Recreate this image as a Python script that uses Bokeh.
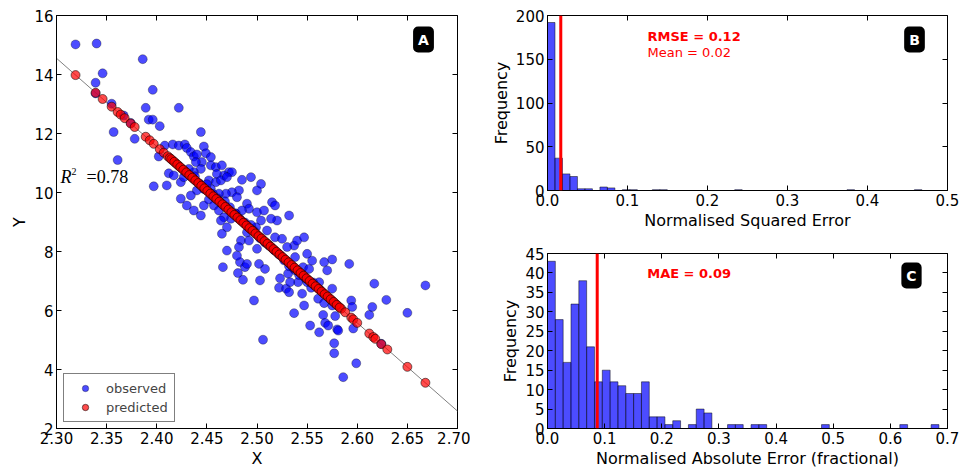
import numpy as np
from bokeh.plotting import figure
from bokeh.models import (Label, Legend, LegendItem, LinearAxis, FixedTicker,
                          NumeralTickFormatter, Range1d, Span, CustomJSTickFormatter)
from bokeh.layouts import row, column
from bokeh.embed import file_html
from bokeh.resources import INLINE

FONT = "DejaVu Sans"

# ---------------- data: panel A (observed vs predicted) ----------------
obs_x = [
    2.319, 2.340, 2.386, 2.346, 2.339, 2.396, 2.355, 2.389, 2.422, 2.367, 2.392, 2.396, 2.403,
    2.357, 2.444, 2.378, 2.361, 2.397, 2.402, 2.374, 2.339,
    2.408, 2.416, 2.422, 2.428, 2.430, 2.434, 2.437, 2.440, 2.447, 2.449, 2.454, 2.445, 2.439,
    2.454, 2.459, 2.465, 2.472, 2.475, 2.467, 2.460, 2.444, 2.437, 2.412, 2.417, 2.424, 2.410,
    2.427, 2.452, 2.459, 2.464, 2.470, 2.485, 2.494, 2.504, 2.500, 2.482, 2.475, 2.469, 2.462,
    2.454, 2.447, 2.440, 2.434, 2.424, 2.430, 2.437, 2.444, 2.447, 2.452, 2.457, 2.462, 2.480,
    2.490, 2.492, 2.485, 2.479, 2.474, 2.467, 2.464, 2.470, 2.500, 2.507, 2.515, 2.518, 2.532,
    2.520, 2.514, 2.504, 2.499, 2.490, 2.484, 2.492, 2.500, 2.470, 2.482, 2.465, 2.510, 2.518,
    2.525, 2.537, 2.540, 2.547, 2.550, 2.530,
    2.466, 2.483, 2.488, 2.481, 2.486, 2.490, 2.502, 2.503, 2.497, 2.506, 2.508, 2.523, 2.522,
    2.531, 2.529, 2.532, 2.537, 2.538, 2.541, 2.546, 2.545, 2.547, 2.552, 2.555, 2.553, 2.562,
    2.561, 2.562, 2.567, 2.566, 2.568, 2.570, 2.571, 2.575, 2.575, 2.578, 2.577, 2.577, 2.580,
    2.581, 2.586, 2.592, 2.594, 2.595, 2.596, 2.599, 2.612, 2.615, 2.617, 2.629, 2.650, 2.668,
    2.538, 2.567, 2.575, 2.533, 2.550, 2.554, 2.480, 2.624,
    2.432, 2.438, 2.443, 2.450, 2.456, 2.461, 2.468, 2.473, 2.478, 2.483, 2.488, 2.494, 2.497,
    2.503, 2.508, 2.512, 2.517, 2.522, 2.527, 2.532, 2.536, 2.542, 2.548, 2.556, 2.563,
]
obs_y = [
    15.02, 15.05, 14.52, 14.04, 13.72, 13.48, 13.01, 12.87, 12.87, 12.61, 12.47, 12.47, 12.25,
    12.05, 12.05, 11.82, 11.10, 10.21, 11.22, 12.36, 13.36,
    11.59, 11.63, 11.59, 11.63, 11.51, 11.37, 11.22, 11.29, 11.56, 11.33, 11.20, 11.03, 11.03,
    10.92, 10.86, 10.92, 10.69, 10.69, 10.58, 10.63, 10.80, 10.69, 10.65, 10.58, 10.35, 10.24,
    10.52, 10.41, 10.35, 10.41, 10.52, 10.43, 10.52, 10.29, 10.07, 10.07, 10.01, 9.96, 9.96,
    10.12, 10.12, 10.07, 9.90, 9.79, 9.56, 9.39, 9.22, 9.56, 9.76, 9.56, 9.39, 9.84,
    9.62, 9.45, 9.39, 9.28, 9.11, 9.16, 9.05, 8.82, 9.33, 9.39, 9.67, 9.56, 9.22,
    9.05, 9.11, 9.05, 8.82, 8.65, 8.37, 8.37, 8.09, 8.03, 8.15, 8.60, 8.71, 8.48,
    8.43, 8.20, 8.37, 8.48, 7.92, 8.15,
    7.47, 7.64, 7.47, 7.27, 7.04, 7.58, 7.58, 7.02, 6.34, 5.01, 7.41, 7.09, 6.77,
    7.25, 6.74, 6.62, 5.91, 7.36, 6.96, 7.47, 6.57, 6.17, 7.41, 7.69, 5.49, 5.26,
    6.40, 6.96, 7.64, 5.85, 5.58, 7.36, 5.49, 7.73, 6.74, 5.81, 4.89, 4.55, 5.36,
    5.32, 3.74, 7.58, 6.34, 6.12, 5.39, 4.21, 5.85, 6.12, 6.91, 6.36, 5.92, 6.85,
    7.81, 6.25, 6.17, 6.96, 6.96, 6.77, 7.86, 4.87,
    10.80, 10.55, 10.30, 10.28, 9.95, 9.80, 9.70, 9.50, 9.30, 9.10, 8.98, 8.90, 8.70,
    8.45, 8.30, 8.20, 8.05, 7.90, 7.70, 7.50, 7.45, 7.20, 7.10, 6.95, 6.70,
]

pred_x = [
    2.319, 2.339, 2.346, 2.355, 2.361, 2.364, 2.368, 2.374, 2.378, 2.389, 2.393, 2.397, 2.403,
    2.407, 2.411,
    2.413, 2.416, 2.419, 2.422, 2.425, 2.428, 2.431, 2.434, 2.437, 2.440, 2.443, 2.446, 2.449,
    2.452, 2.455, 2.458, 2.461, 2.464, 2.467, 2.470, 2.473, 2.476, 2.479, 2.482, 2.485, 2.488,
    2.491, 2.494, 2.497, 2.500, 2.503, 2.506, 2.509, 2.512, 2.515, 2.518, 2.521, 2.524, 2.527,
    2.530, 2.533, 2.536, 2.539, 2.542, 2.545, 2.548, 2.551, 2.554, 2.557, 2.560, 2.563, 2.566,
    2.569, 2.572, 2.575, 2.578, 2.581, 2.584,
    2.4145, 2.4175, 2.4205, 2.4235, 2.4265, 2.4295, 2.4325, 2.4355, 2.4385, 2.4415, 2.4445,
    2.4475, 2.4505, 2.4535, 2.4565, 2.4595, 2.4625, 2.4655, 2.4685, 2.4715, 2.4745, 2.4775,
    2.4805, 2.4835, 2.4865, 2.4895, 2.4925, 2.4955, 2.4985, 2.5015, 2.5045, 2.5075, 2.5105,
    2.5135, 2.5165, 2.5195, 2.5225, 2.5255, 2.5285, 2.5315, 2.5345, 2.5375, 2.5405, 2.5435,
    2.5465, 2.5495, 2.5525, 2.5555, 2.5585, 2.5615, 2.5645, 2.5675, 2.5705, 2.5735, 2.5765,
    2.5795, 2.5825,
    2.588, 2.594, 2.596, 2.600, 2.612, 2.616, 2.618, 2.624, 2.630, 2.650, 2.668,
]
pred_y = [
    13.98, 13.38, 13.17, 12.91, 12.73, 12.64, 12.52, 12.34, 12.22, 11.89, 11.77, 11.65, 11.47,
    11.35, 11.23,
    11.17, 11.08, 10.99, 10.90, 10.81, 10.72, 10.63, 10.54, 10.45, 10.36, 10.27, 10.18, 10.09,
    10.01, 9.91, 9.82, 9.74, 9.65, 9.56, 9.47, 9.38, 9.29, 9.20, 9.11, 9.02, 8.93,
    8.84, 8.75, 8.66, 8.57, 8.48, 8.39, 8.30, 8.21, 8.12, 8.03, 7.94, 7.85, 7.76,
    7.67, 7.58, 7.49, 7.40, 7.31, 7.22, 7.13, 7.04, 6.95, 6.86, 6.78, 6.69, 6.60,
    6.51, 6.42, 6.33, 6.24, 6.15, 6.06,
    11.13, 11.04, 10.95, 10.86, 10.77, 10.68, 10.59, 10.50, 10.41, 10.32, 10.23,
    10.14, 10.05, 9.96, 9.87, 9.78, 9.69, 9.60, 9.51, 9.42, 9.33, 9.24,
    9.15, 9.06, 8.97, 8.88, 8.79, 8.70, 8.61, 8.52, 8.44, 8.35, 8.26,
    8.17, 8.08, 7.99, 7.90, 7.81, 7.72, 7.63, 7.54, 7.45, 7.36, 7.27,
    7.18, 7.09, 7.00, 6.91, 6.82, 6.73, 6.64, 6.55, 6.47, 6.38, 6.29,
    6.19, 6.10,
    5.94, 5.76, 5.70, 5.58, 5.22, 5.10, 5.04, 4.86, 4.68, 4.09, 3.55,
]

fit_line_x = [2.30, 2.70]
fit_line_y = [14.55, 2.59]
r2_text = "=0.78"

a_xticks = [2.30, 2.35, 2.40, 2.45, 2.50, 2.55, 2.60, 2.65, 2.70]
a_yticks = [2, 4, 6, 8, 10, 12, 14, 16]

# ---------------- data: panel B (normalised squared error) ----------------
se_counts = [192, 37, 19, 16, 2, 2, 0, 4, 3, 0, 1, 1, 0, 0, 1, 1, 0, 0, 0, 0,
             0, 0, 0, 0, 0, 1, 0, 0, 0, 0, 0, 0, 0, 0, 0, 0, 0, 0, 0, 0,
             1, 0, 0, 0, 0, 0, 0, 0, 0, 1]
se_max = 0.468
se_mean = 0.0166
b_xticks = [0.0, 0.1, 0.2, 0.3, 0.4, 0.5]
b_yticks = [0, 50, 100, 150, 200]

# ---------------- data: panel C (normalised absolute error) ----------------
ae_counts = [43, 28, 17, 32, 38, 21, 12, 15, 12, 11, 9, 9, 12, 3, 3, 1, 2, 0, 1, 5,
             4, 0, 0, 1, 1, 0, 1, 1, 0, 0, 0, 0, 0, 0, 0, 1, 0, 0, 0, 0,
             0, 0, 0, 0, 0, 1, 0, 0, 0, 1]
ae_max = 0.685
ae_mae = 0.087
c_xticks = [0.0, 0.1, 0.2, 0.3, 0.4, 0.5, 0.6, 0.7]
c_yticks = [0, 5, 10, 15, 20, 25, 30, 35, 40, 45]


def style(p, xticks, yticks, xfmt, yfmt, xlabel, ylabel):
    p.xgrid.visible = False
    p.ygrid.visible = False
    p.outline_line_color = "black"
    p.outline_line_width = 1
    p.outline_line_alpha = 1
    p.background_fill_color = "white"
    p.border_fill_color = "white"
    xa = p.below[0]
    ya = p.left[0]
    xa.ticker = FixedTicker(ticks=xticks)
    ya.ticker = FixedTicker(ticks=yticks)
    xa.formatter = NumeralTickFormatter(format=xfmt)
    ya.formatter = NumeralTickFormatter(format=yfmt)
    xa.axis_label = xlabel
    ya.axis_label = ylabel
    for ax in (xa, ya):
        ax.major_tick_in = 5
        ax.major_tick_out = 0
        ax.minor_tick_line_color = None
        ax.axis_line_color = "black"
        ax.major_tick_line_color = "black"
        ax.major_label_text_font = FONT
        ax.major_label_text_font_size = "15px"
        ax.major_label_text_color = "black"
        ax.axis_label_text_font = FONT
        ax.axis_label_text_font_size = "16px"
        ax.axis_label_text_font_style = "normal"
        ax.axis_label_text_color = "black"
        ax.major_label_standoff = 3
        ax.axis_label_standoff = 2
    blank = CustomJSTickFormatter(code="return ''")
    top = LinearAxis(ticker=FixedTicker(ticks=xticks), formatter=blank,
                     major_tick_in=5, major_tick_out=0, minor_tick_line_color=None,
                     major_label_text_font_size="0px", major_label_standoff=0,
                     axis_line_color=None)
    right = LinearAxis(ticker=FixedTicker(ticks=yticks), formatter=blank,
                       major_tick_in=5, major_tick_out=0, minor_tick_line_color=None,
                       major_label_text_font_size="0px", major_label_standoff=0,
                       axis_line_color=None)
    p.add_layout(top, "above")
    p.add_layout(right, "right")


def panel_badge(p, letter, sx, sy):
    p.add_layout(Label(text=letter, x=sx, y=sy, x_units="screen", y_units="screen",
                       text_align="center", text_baseline="middle", text_color="white",
                       text_font=FONT, text_font_style="bold", text_font_size="14px",
                       background_fill_color="black", background_fill_alpha=1,
                       padding=5, border_radius=5))


# ---------------- panel A ----------------
pA = figure(width=470, height=472, x_range=Range1d(2.30, 2.70), y_range=Range1d(2, 16),
            output_backend="svg", toolbar_location=None,
            min_border_left=56, min_border_right=13, min_border_top=15, min_border_bottom=44)
style(pA, a_xticks, a_yticks, "0.00", "0", "X", "Y")

pA.line(fit_line_x, fit_line_y, line_color="gray", line_width=1)
r_obs = pA.scatter(obs_x, obs_y, size=9, fill_color="#0000ff", fill_alpha=0.7,
                   line_color="black", line_alpha=0.45, line_width=0.7)
r_pred = pA.scatter(pred_x, pred_y, size=9, fill_color="#ff0000", fill_alpha=0.7,
                    line_color="black", line_alpha=0.75, line_width=0.7)

legend = Legend(items=[LegendItem(label="observed", renderers=[r_obs]),
                       LegendItem(label="predicted", renderers=[r_pred])],
                location=(7, 6), margin=0, padding=6, spacing=3,
                glyph_width=30, glyph_height=16, label_height=16, label_standoff=6,
                label_text_font=FONT, label_text_font_size="13px",
                border_line_color="black", border_line_width=1,
                background_fill_color="white", background_fill_alpha=1)
pA.add_layout(legend)

pA.add_layout(Label(text="R", x=4, y=252, x_units="screen", y_units="screen",
                    text_font="Liberation Serif", text_font_style="italic",
                    text_font_size="18px", text_color="black", text_baseline="alphabetic"))
pA.add_layout(Label(text="2", x=15, y=257, x_units="screen", y_units="screen",
                    text_font="Liberation Serif", text_font_size="10px",
                    text_color="black", text_baseline="alphabetic"))
pA.add_layout(Label(text=r2_text, x=30, y=252, x_units="screen", y_units="screen",
                    text_font="Liberation Serif", text_font_size="18px",
                    text_color="black", text_baseline="alphabetic"))
panel_badge(pA, "A", 367, 389)

# ---------------- panel B ----------------
se_edges = np.linspace(0, se_max, len(se_counts) + 1)
b_left = [se_edges[i] for i, c in enumerate(se_counts) if c > 0]
b_right = [se_edges[i + 1] for i, c in enumerate(se_counts) if c > 0]
b_top = [c for c in se_counts if c > 0]

pB = figure(width=489, height=235, x_range=Range1d(0, 0.5), y_range=Range1d(0, 200),
            output_backend="svg", toolbar_location=None,
            min_border_left=76, min_border_right=12, min_border_top=15, min_border_bottom=45)
style(pB, b_xticks, b_yticks, "0.0", "0", "Normalised Squared Error", "Frequency")
pB.quad(left=b_left, right=b_right, bottom=0, top=b_top, fill_color="#0000ff",
        fill_alpha=0.7, line_color="black", line_alpha=0.6, line_width=0.8)
pB.add_layout(Span(location=se_mean, dimension="height", line_color="red", line_width=3))
pB.add_layout(Label(text="RMSE = 0.12", x=0.125, y=176, text_color="red",
                    text_font=FONT, text_font_style="bold", text_font_size="13px",
                    text_baseline="middle"))
pB.add_layout(Label(text="Mean = 0.02", x=0.125, y=158, text_color="red",
                    text_font=FONT, text_font_size="13px", text_baseline="middle"))
panel_badge(pB, "B", 367, 151)

# ---------------- panel C ----------------
ae_edges = np.linspace(0, ae_max, len(ae_counts) + 1)
c_left = [ae_edges[i] for i, c in enumerate(ae_counts) if c > 0]
c_right = [ae_edges[i + 1] for i, c in enumerate(ae_counts) if c > 0]
c_top = [c for c in ae_counts if c > 0]

pC = figure(width=489, height=237, x_range=Range1d(0, 0.7), y_range=Range1d(0, 45),
            output_backend="svg", toolbar_location=None,
            min_border_left=77, min_border_right=12, min_border_top=18, min_border_bottom=44)
style(pC, c_xticks, c_yticks, "0.0", "0", "Normalised Absolute Error (fractional)", "Frequency")
pC.quad(left=c_left, right=c_right, bottom=0, top=c_top, fill_color="#0000ff",
        fill_alpha=0.7, line_color="black", line_alpha=0.6, line_width=0.8)
pC.add_layout(Span(location=ae_mae, dimension="height", line_color="red", line_width=3))
pC.add_layout(Label(text="MAE = 0.09", x=0.1745, y=39.8, text_color="red",
                    text_font=FONT, text_font_style="bold", text_font_size="13px",
                    text_baseline="middle"))
panel_badge(pC, "C", 364, 153)

layout = row(pA, column(pB, pC))
open("out.html", "w").write(file_html(layout, INLINE))
